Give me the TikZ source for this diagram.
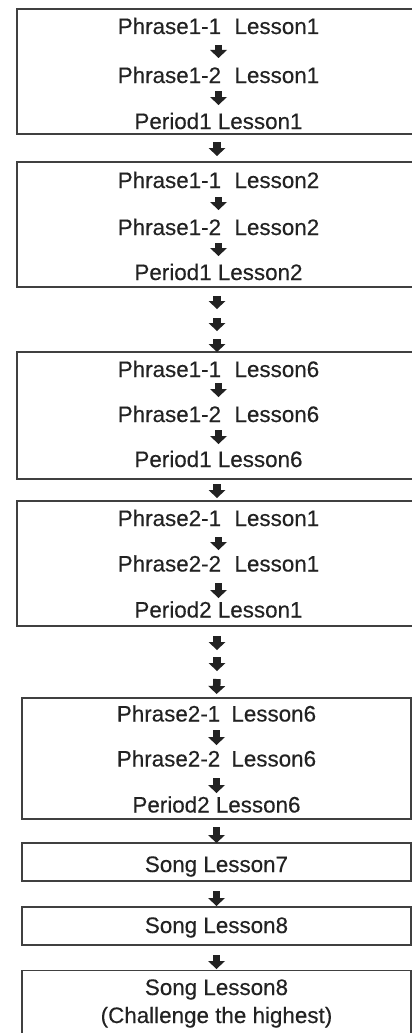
\documentclass[tikz,border=0pt]{standalone}
\usepackage{fontspec}
\setmainfont{Liberation Sans}
\newfontfamily\lessonfont{Liberation Sans}[FakeBold=0.3]
\usetikzlibrary{arrows.meta}
\definecolor{ink}{HTML}{222222}
\definecolor{frame}{HTML}{404040}
\newcommand\blkarr[4]{\draw[blk, shorten <=#3pt, shorten >=#4pt] (#1) -- (#2);}
\begin{document}
\begin{tikzpicture}[x=1pt,y=-1pt,
  bx/.style={draw=frame, line width=1.6pt, inner sep=0pt, outer sep=0pt, rectangle},
  tx/.style={inner sep=0pt, outer sep=0pt, text height=16pt, text depth=5pt, anchor=base, text=ink, font=\lessonfont\fontsize{22.4}{28}\selectfont},
  blk/.style={draw=ink, line width=7.5pt, -{Triangle[width=17pt,length=8pt,line width=0pt]}}
]
\useasboundingbox (0,0) rectangle (412,1033);
\clip (0,0) rectangle (412,1033);
\fill[white] (0,0) rectangle (412,1033);

% boxes
\node[bx, minimum width=400pt, minimum height=124.7pt] (b1) at (217,71.65) {};
\node[bx, minimum width=400pt, minimum height=125pt] (b2) at (217,224.5) {};
\node[bx, minimum width=400pt, minimum height=127pt] (b3) at (217,415.5) {};
\node[bx, minimum width=400pt, minimum height=125pt] (b4) at (217,563.5) {};
\node[bx, minimum width=389pt, minimum height=121pt] (b5) at (216.5,758.5) {};
\node[bx, minimum width=389pt, minimum height=38pt] (b6) at (216.5,862) {};
\node[bx, minimum width=389pt, minimum height=38pt] (b7) at (216.5,926) {};
\node[bx, minimum width=389pt, minimum height=79.5pt] (b8) at (216.5,1010.25) {};

% texts
\node[tx] (t11) at (218.5,34) {Phrase1-1\hspace{0.6em}Lesson1};
\node[tx] (t12) at (218.5,83) {Phrase1-2\hspace{0.6em}Lesson1};
\node[tx] (t13) at (218.5,129) {Period1 Lesson1};
\node[tx] (t21) at (218.5,188) {Phrase1-1\hspace{0.6em}Lesson2};
\node[tx] (t22) at (218.5,235) {Phrase1-2\hspace{0.6em}Lesson2};
\node[tx] (t23) at (218.5,280) {Period1 Lesson2};
\node[tx] (t31) at (218.5,377) {Phrase1-1\hspace{0.6em}Lesson6};
\node[tx] (t32) at (218.5,422) {Phrase1-2\hspace{0.6em}Lesson6};
\node[tx] (t33) at (218.5,467) {Period1 Lesson6};
\node[tx] (t41) at (218.5,526) {Phrase2-1\hspace{0.6em}Lesson1};
\node[tx] (t42) at (218.5,571.5) {Phrase2-2\hspace{0.6em}Lesson1};
\node[tx] (t43) at (218.5,617.5) {Period2 Lesson1};
\node[tx] (t51) at (216.5,721.5) {Phrase2-1\hspace{0.5em}Lesson6};
\node[tx] (t52) at (216.5,766.5) {Phrase2-2\hspace{0.5em}Lesson6};
\node[tx] (t53) at (216.5,812.5) {Period2 Lesson6};
\node[tx] (t6) at (216.5,872) {Song Lesson7};
\node[tx] (t7) at (216.5,933) {Song Lesson8};
\node[tx] (t8a) at (216.5,995) {Song Lesson8};
\node[tx] (t8b) at (216.5,1023) {(Challenge the highest)};

\coordinate (m1) at (217,309);
\coordinate (m2) at (217,331);
\coordinate (n1) at (217,650);
\coordinate (n2) at (217,671);

% arrows
\blkarr{t11.south}{t12.north}{6}{9}
\blkarr{t12.south}{t13.north}{3}{8}
\blkarr{b1.south}{b2.north}{8}{6}
\blkarr{t21.south}{t22.north}{4}{9}
\blkarr{t22.south}{t23.north}{3}{8}
\blkarr{b2.south}{m1}{9}{0}
\blkarr{m1}{m2}{9}{0}
\blkarr{m2}{b3.north}{8}{0}
\blkarr{t31.south}{t32.north}{1}{9}
\blkarr{t32.south}{t33.north}{3}{7}
\blkarr{b3.south}{b4.north}{5}{3}
\blkarr{t41.south}{t42.north}{6}{5.5}
\blkarr{t42.south}{t43.north}{6.5}{3.5}
\blkarr{b4.south}{n1}{10}{0}
\blkarr{n1}{n2}{7}{0}
\blkarr{n2}{b5.north}{8}{4}
\blkarr{t51.south}{t52.north}{3.5}{5.5}
\blkarr{t52.south}{t53.north}{6.5}{3.5}
\blkarr{b5.south}{b6.north}{8}{0}
\blkarr{b6.south}{b7.north}{10}{1}
\blkarr{b7.south}{b8.north}{10}{1.5}
\end{tikzpicture}
\end{document}
